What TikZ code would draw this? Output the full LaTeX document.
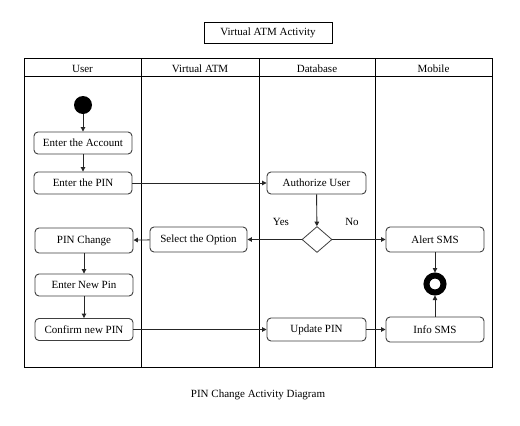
\documentclass[tikz,border=0pt]{standalone}
\usepackage{fontspec}
\setmainfont{Liberation Serif}
\usetikzlibrary{shapes.geometric,arrows.meta}
\begin{document}
\begin{tikzpicture}[x=1pt,y=-1pt,
  every node/.style={font=\fontsize{11}{13}\selectfont},
  act/.style={draw=black!75, line width=0.9pt, rounded corners=4pt, fill=white, minimum width=98pt, minimum height=22pt, inner sep=0pt},
  lane/.style={draw=black, line width=0.8pt},
  flow/.style={draw=black!85, line width=0.9pt, -{Triangle[length=4.5pt,width=4.5pt]}}
]
\useasboundingbox (0,0) rectangle (520,426);
\fill[white] (0,0) rectangle (520,426);
% title
\node[draw=black, line width=0.8pt, minimum width=128pt, minimum height=21pt, inner sep=0pt] (title) at (268,32.5) {Virtual ATM Activity};
% swimlanes
\draw[lane] (24,58) rectangle (492,367);
\draw[lane] (24,76) -- (492,76);
\draw[lane] (141,58) -- (141,367);
\draw[lane] (259,58) -- (259,367);
\draw[lane] (375,58) -- (375,367);
\node (h1) at (82.5,68.5) {User};
\node (h2) at (200,68.5) {Virtual ATM};
\node (h3) at (317,68.5) {Database};
\node (h4) at (433.5,68.5) {Mobile};
% nodes
\node[circle, fill=black, minimum size=18pt, inner sep=0pt] (start) at (83,105) {};
\node[act] (acc) at (83,143) {Enter the Account};
\node[act] (pin) at (83,183) {Enter the PIN};
\node[act, minimum width=99pt] (auth) at (316.5,183) {Authorize User};
\node[diamond, draw=black!75, line width=0.8pt, fill=white, minimum width=30pt, minimum height=26pt, inner sep=0pt] (dec) at (317,239.5) {};
\node[act, minimum height=25pt] (chg) at (84,240.5) {PIN Change};
\node[act, minimum width=97pt, minimum height=25pt] (sel) at (198.5,239.5) {Select the Option};
\node[act, minimum height=25pt] (alert) at (435,239.5) {Alert SMS};
\node[act] (newpin) at (84,285) {Enter New Pin};
\node[act] (conf) at (84,329.5) {Confirm new PIN};
\node[act, minimum width=99pt, minimum height=23pt] (upd) at (316.5,329.5) {Update PIN};
\node[act, minimum height=25pt] (info) at (435,329.5) {Info SMS};
\node[circle, draw=black, fill=white, line width=6pt, minimum size=17pt, inner sep=0pt] (final) at (435,284) {};
% labels
\node (yes) at (281,222) {Yes};
\node (no) at (352,222) {No};
% flows
\draw[flow] (start) -- (acc);
\draw[flow] (acc) -- (pin);
\draw[flow] (pin) -- (auth);
\draw[flow] (auth) -- (dec);
\draw[flow] (dec) -- (sel);
\draw[flow] (sel) -- (chg);
\draw[flow] (dec) -- (alert);
\draw[flow] (alert) -- (final);
\draw[flow] (chg) -- (newpin);
\draw[flow] (newpin) -- (conf);
\draw[flow] (conf) -- (upd);
\draw[flow] (upd) -- (info);
\draw[flow] (info) -- (final);
% caption
\node (cap) at (258,395) {PIN Change Activity Diagram};
\end{tikzpicture}
\end{document}
